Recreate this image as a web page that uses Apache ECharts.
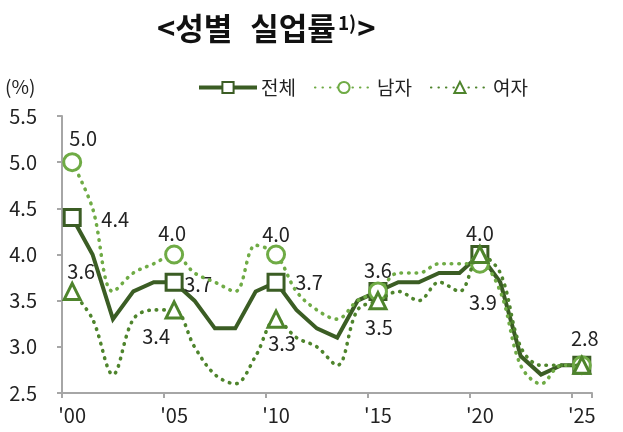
<!DOCTYPE html>
<html>
<head>
<meta charset="utf-8">
<script src="https://cdn.jsdelivr.net/npm/echarts@6/dist/echarts.min.js"></script>
<style>
  html, body { margin: 0; padding: 0; background: #fff; }
  #chart { width: 623px; height: 432px; }
</style>
</head>
<body>
<div id="chart"></div>
<script>
// Unemployment rate by sex, 2000-2025 (%)
const years = [2000, 2001, 2002, 2003, 2004, 2005, 2006, 2007, 2008, 2009,
               2010, 2011, 2012, 2013, 2014, 2015, 2016, 2017, 2018, 2019,
               2020, 2021, 2022, 2023, 2024, 2025];
const total  = [4.4, 4.0, 3.3, 3.6, 3.7, 3.7, 3.5, 3.2, 3.2, 3.6,
                3.7, 3.4, 3.2, 3.1, 3.5, 3.6, 3.7, 3.7, 3.8, 3.8,
                4.0, 3.7, 2.9, 2.7, 2.8, 2.8];
const male   = [5.0, 4.5, 3.6, 3.8, 3.9, 4.0, 3.8, 3.7, 3.6, 4.1,
                4.0, 3.6, 3.4, 3.3, 3.5, 3.6, 3.8, 3.8, 3.9, 3.9,
                3.9, 3.6, 2.8, 2.6, 2.8, 2.8];
const female = [3.6, 3.3, 2.7, 3.3, 3.4, 3.4, 3.0, 2.7, 2.6, 2.9,
                3.3, 3.1, 3.0, 2.8, 3.4, 3.5, 3.6, 3.5, 3.7, 3.6,
                4.0, 3.8, 3.0, 2.8, 2.8, 2.8];
const markedYears = [2000, 2005, 2010, 2015, 2020, 2025];
const yTicks = [2.5, 3.0, 3.5, 4.0, 4.5, 5.0, 5.5];
const seriesNames = ['전체', '남자', '여자'];

// Where each value label sits relative to its marker: [dx, dy] in px
const totalLabelOffsets  = { 2000: [43, 2], 2005: [24, 2], 2010: [33, 0], 2015: [0, -21], 2020: [0, -21], 2025: [3, -27] };
const maleLabelOffsets   = { 2000: [11, -24], 2005: [-2, -21], 2010: [0, -20], 2020: [3, 39] };
const femaleLabelOffsets = { 2000: [9, -20], 2005: [-18, 27], 2010: [6, 24], 2015: [1, 27] };

const FONT = '"Noto Sans CJK KR", "Noto Sans", sans-serif';
const TEXT = '#222';
const AXIS = '#a6a6a6';
const C_TOTAL = '#3b5d24';
const C_MALE = '#6fab45';
const C_FEMALE = '#4e842c';

function points(values, offsets) {
  return values.map((v, i) => {
    const off = offsets[years[i]];
    return off ? { value: v, label: { show: true, offset: off } } : v;
  });
}

function markerSize(size) {
  return (v, p) => (markedYears.indexOf(years[p.dataIndex]) >= 0 ? size : 0);
}

const valueLabel = {
  show: false,
  position: 'inside',
  formatter: p => Number(p.value).toFixed(1),
  color: TEXT,
  fontSize: 20,
  fontFamily: FONT,
  textBorderWidth: 0
};

function lineSeries(name, values, offsets, opts) {
  return {
    name: name,
    type: 'line',
    data: points(values, offsets),
    smooth: opts.smooth,
    symbol: opts.symbol,
    symbolSize: markerSize(opts.size),
    showAllSymbol: true,
    lineStyle: opts.lineStyle,
    itemStyle: { color: '#fff', borderColor: opts.color, borderWidth: 3 },
    label: valueLabel,
    emphasis: { disabled: true },
    z: opts.z
  };
}

const chart = echarts.init(document.getElementById('chart'), null, { renderer: 'canvas' });

chart.setOption({
  animation: false,
  backgroundColor: '#fff',
  title: {
    text: '{t|<성별}{gap|}{t|실업률}{sup|1)}{t|>}',
    left: 152,
    top: 8,
    textStyle: {
      rich: {
        t: { fontSize: 31, fontWeight: 'bold', fontFamily: FONT, color: '#111' },
        gap: { width: 18 },
        sup: { fontSize: 19, fontWeight: 'bold', fontFamily: FONT, color: '#111', verticalAlign: 'top', padding: [0, 1, 0, 2] }
      }
    }
  },
  graphic: [{
    type: 'text',
    left: 5,
    top: 77,
    style: { text: '(%)', fontSize: 19, fontFamily: FONT, fill: TEXT }
  }],
  legend: {
    data: [
      { name: seriesNames[0], lineStyle: { width: 4 } },
      { name: seriesNames[1] },
      { name: seriesNames[2] }
    ],
    left: 197,
    top: 78,
    padding: 0,
    itemWidth: 58,
    itemHeight: 14,
    itemGap: 18,
    textStyle: { fontSize: 19, fontFamily: FONT, color: TEXT, padding: [0, 0, 0, -1] }
  },
  grid: { left: 62, right: 31, top: 116, bottom: 39 },
  xAxis: {
    type: 'category',
    data: years,
    boundaryGap: true,
    axisLine: { lineStyle: { color: AXIS, width: 2 } },
    axisTick: { show: true, interval: 4, length: 5, lineStyle: { color: AXIS, width: 2 } },
    axisLabel: {
      interval: 4,
      margin: 12,
      fontSize: 20,
      fontFamily: FONT,
      color: TEXT,
      formatter: v => "'" + String(v).slice(2)
    },
    splitLine: { show: false }
  },
  yAxis: {
    type: 'value',
    min: yTicks[0],
    max: yTicks[yTicks.length - 1],
    interval: 0.5,
    axisLine: { show: true, lineStyle: { color: AXIS, width: 2 } },
    axisTick: { show: true, length: 5, lineStyle: { color: AXIS, width: 2 } },
    axisLabel: {
      margin: 25,
      fontSize: 20,
      fontFamily: FONT,
      color: TEXT,
      formatter: v => v.toFixed(1)
    },
    splitLine: { show: false }
  },
  series: [
    lineSeries(seriesNames[0], total, totalLabelOffsets, {
      smooth: false, symbol: 'rect', size: 16, color: C_TOTAL, z: 3,
      lineStyle: { color: C_TOTAL, width: 4, join: 'miter' }
    }),
    lineSeries(seriesNames[1], male, maleLabelOffsets, {
      smooth: 0.35, symbol: 'circle', size: 17, color: C_MALE, z: 4,
      lineStyle: { color: C_MALE, width: 3.6, type: [0.5, 7], cap: 'round' }
    }),
    lineSeries(seriesNames[2], female, femaleLabelOffsets, {
      smooth: 0.35, symbol: 'triangle', size: 16, color: C_FEMALE, z: 5,
      lineStyle: { color: C_FEMALE, width: 3.6, type: [0.5, 7], cap: 'round' }
    })
  ]
});
</script>
</body>
</html>
